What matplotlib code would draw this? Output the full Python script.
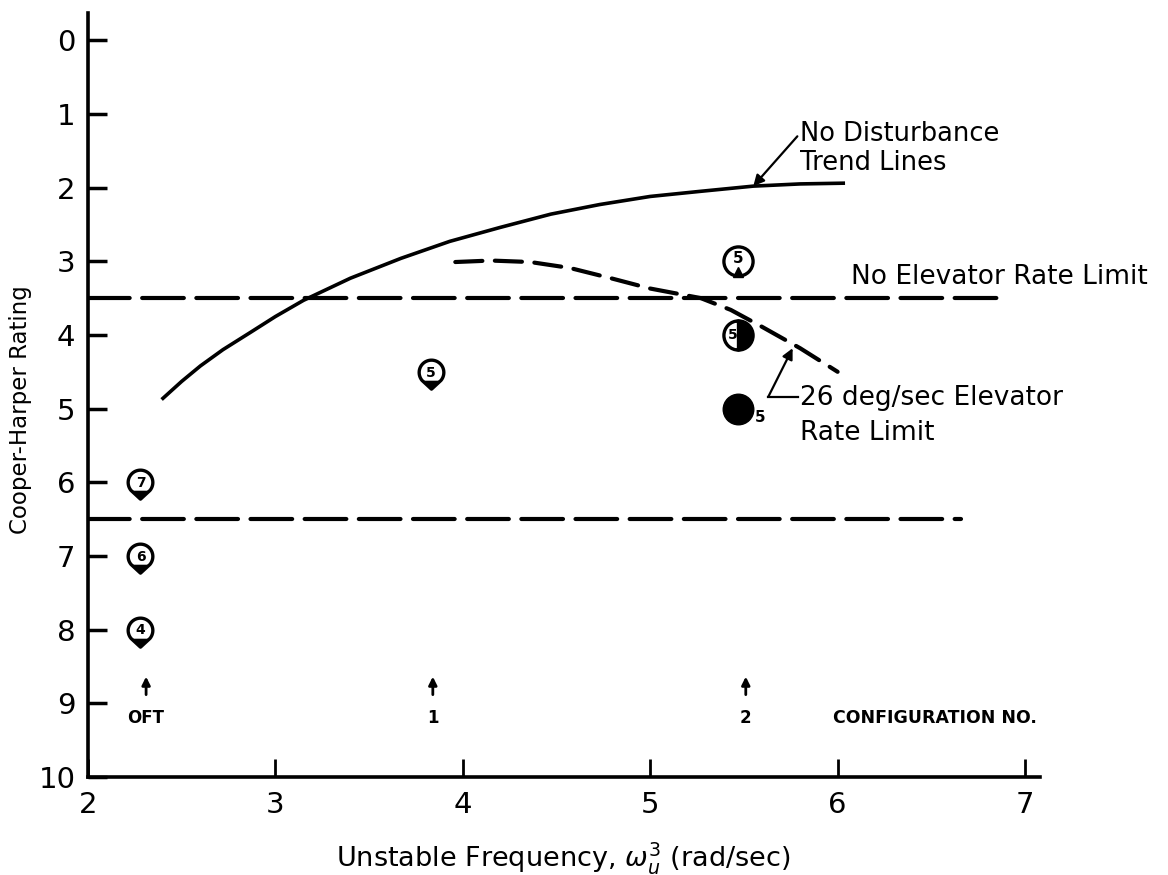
import numpy as np
import matplotlib
matplotlib.use("Agg")
import matplotlib.pyplot as plt
from matplotlib.path import Path

# ---------------- data ----------------
trend_x = [2.40, 2.50, 2.60, 2.72, 2.87, 3.00, 3.15, 3.40, 3.67, 3.93, 4.20, 4.47, 4.73, 5.00, 5.27, 5.55, 5.80, 6.03]
trend_y = [4.86, 4.63, 4.42, 4.20, 3.96, 3.75, 3.53, 3.23, 2.96, 2.73, 2.54, 2.36, 2.23, 2.12, 2.05, 1.98, 1.95, 1.94]

rate_x = [3.96, 4.15, 4.36, 4.57, 4.79, 5.00, 5.27, 5.43, 5.59, 5.80, 6.00]
rate_y = [3.01, 2.99, 3.01, 3.09, 3.23, 3.37, 3.50, 3.66, 3.88, 4.18, 4.50]

bound_levels = [3.5, 6.5]
bound_x_end = [6.87, 6.66]

oft_x = [2.28, 2.28, 2.28]
oft_y = [6, 7, 8]
oft_num = ["7", "6", "4"]

c1_x = [3.83]
c1_y = [4.5]
c1_num = ["5"]

c2_x = 5.47
c2_open_y = 3
c2_half_y = 4
c2_full_y = 5

config_x = [2.31, 3.84, 5.51]
config_lbl = ["OFT", "1", "2"]

xticks = [2, 3, 4, 5, 6, 7]
yticks = list(range(0, 11))

# ---------------- figure ----------------
plt.rcParams['font.family'] = ['DejaVu Sans']
fig = plt.figure(figsize=(11.68, 8.75), dpi=100)
ax = fig.add_axes([88/1168, 1-777/875, (1040-88)/1168, (777-13)/875])

ax.set_xlim(2, 7.08)
ax.set_ylim(10, -0.37)
for s in ['top', 'right']:
    ax.spines[s].set_visible(False)
for s in ['left', 'bottom']:
    ax.spines[s].set_linewidth(2.6)

ax.set_xticks(xticks)
ax.set_yticks(yticks)
ax.tick_params(axis='x', direction='in', length=13, width=2, labelsize=21, pad=10)
ax.tick_params(axis='y', direction='in', length=14, width=2.5, labelsize=21, pad=9)

ax.set_xlabel(r"Unstable Frequency, $\omega_u^3$ (rad/sec)", fontsize=19.5, va='center')
ax.xaxis.set_label_coords(0.499, -(858-777)/764, transform=ax.transAxes)
ax.set_ylabel("Cooper-Harper Rating", fontsize=16.5)
ax.yaxis.set_label_coords((32-88)/952, (777-410)/764, transform=ax.transAxes)

# boundary dashed lines
for lvl, xe in zip(bound_levels, bound_x_end):
    ax.plot([2, xe], [lvl, lvl], color='black', lw=3.0, dashes=(10, 3), dash_capstyle='round')

# trend curves
ax.plot(trend_x, trend_y, color='black', lw=2.6, solid_joinstyle='round')
ax.plot(rate_x, rate_y, color='black', lw=3.0, dashes=(6.5, 3), dash_capstyle='round')

# pilot rating symbols
th = np.radians(np.linspace(-40, 220, 40))
pin_verts = np.column_stack([np.cos(th), np.sin(th)]).tolist() + [[0, -1.35], [np.cos(th[0]), np.sin(th[0])]]
pin = Path(pin_verts, closed=True)
tip = Path([[-0.62, -0.72], [0.62, -0.72], [0, -1.35], [-0.62, -0.72]], closed=True)

def pin_symbol(x, y, num):
    ax.plot(x, y, marker=pin, ms=24, mfc='white', mec='black', mew=2.4, ls='none', zorder=5)
    ax.plot(x, y, marker=tip, ms=24, mfc='black', mec='black', mew=1, ls='none', zorder=6)
    ax.text(x, y + 0.01, num, fontsize=10, fontweight='bold', ha='center', va='center', zorder=7)

for x, y, n in zip(oft_x, oft_y, oft_num):
    pin_symbol(x, y, n)
for x, y, n in zip(c1_x, c1_y, c1_num):
    pin_symbol(x, y, n)

# configuration 2 symbols
ax.plot(c2_x, c2_open_y, marker='o', ms=21, mfc='white', mec='black', mew=2.4, zorder=5)
ax.plot(c2_x, c2_open_y + 0.15, marker='^', ms=7, mfc='black', mec='black', zorder=6)
ax.text(c2_x, c2_open_y - 0.04, "5", fontsize=11, fontweight='bold', ha='center', va='center', zorder=7)

ax.plot(c2_x, c2_half_y, marker='o', ms=21, fillstyle='right', mfc='black', mfcalt='white',
        mec='black', mew=2.4, zorder=5)
ax.text(c2_x - 0.032, c2_half_y, "5", fontsize=10, fontweight='bold', ha='center', va='center', zorder=7)

ax.plot(c2_x, c2_full_y, marker='o', ms=22, mfc='black', mec='black', zorder=5)
ax.text(c2_x + 0.09, c2_full_y + 0.12, "5", fontsize=11, fontweight='bold', ha='left', va='center')

# configuration labels
for x, lbl in zip(config_x, config_lbl):
    ax.annotate('', xy=(x, 8.6), xytext=(x, 8.92),
                arrowprops=dict(arrowstyle='-|>', lw=2, color='black', mutation_scale=12))
    ax.text(x, 9.2, lbl, fontsize=12, fontweight='bold', ha='center', va='center')
ax.text(6.52, 9.2, "CONFIGURATION NO.", fontsize=12.5, fontweight='bold', ha='center', va='center')

# annotations
ax.annotate("No Disturbance\nTrend Lines", xy=(5.55, 1.98), xytext=(5.80, 1.47),
            fontsize=18.5, ha='left', va='center', linespacing=1.15,
            arrowprops=dict(arrowstyle='-|>', lw=1.6, color='black', mutation_scale=16,
                            shrinkA=0, shrinkB=0, relpos=(0, 0.78)))
ax.text(6.07, 3.22, "No Elevator Rate Limit", fontsize=19, ha='left', va='center')

ax.plot([5.79, 5.63], [4.84, 4.84], color='black', lw=1.6)
ax.annotate('', xy=(5.76, 4.18), xytext=(5.63, 4.84),
            arrowprops=dict(arrowstyle='-|>', lw=1.6, color='black', mutation_scale=16,
                            shrinkA=0, shrinkB=0))
ax.text(5.80, 4.86, "26 deg/sec Elevator", fontsize=19, ha='left', va='center')
ax.text(5.80, 5.33, "Rate Limit", fontsize=19, ha='left', va='center')

fig.savefig("out.png", dpi=100)
